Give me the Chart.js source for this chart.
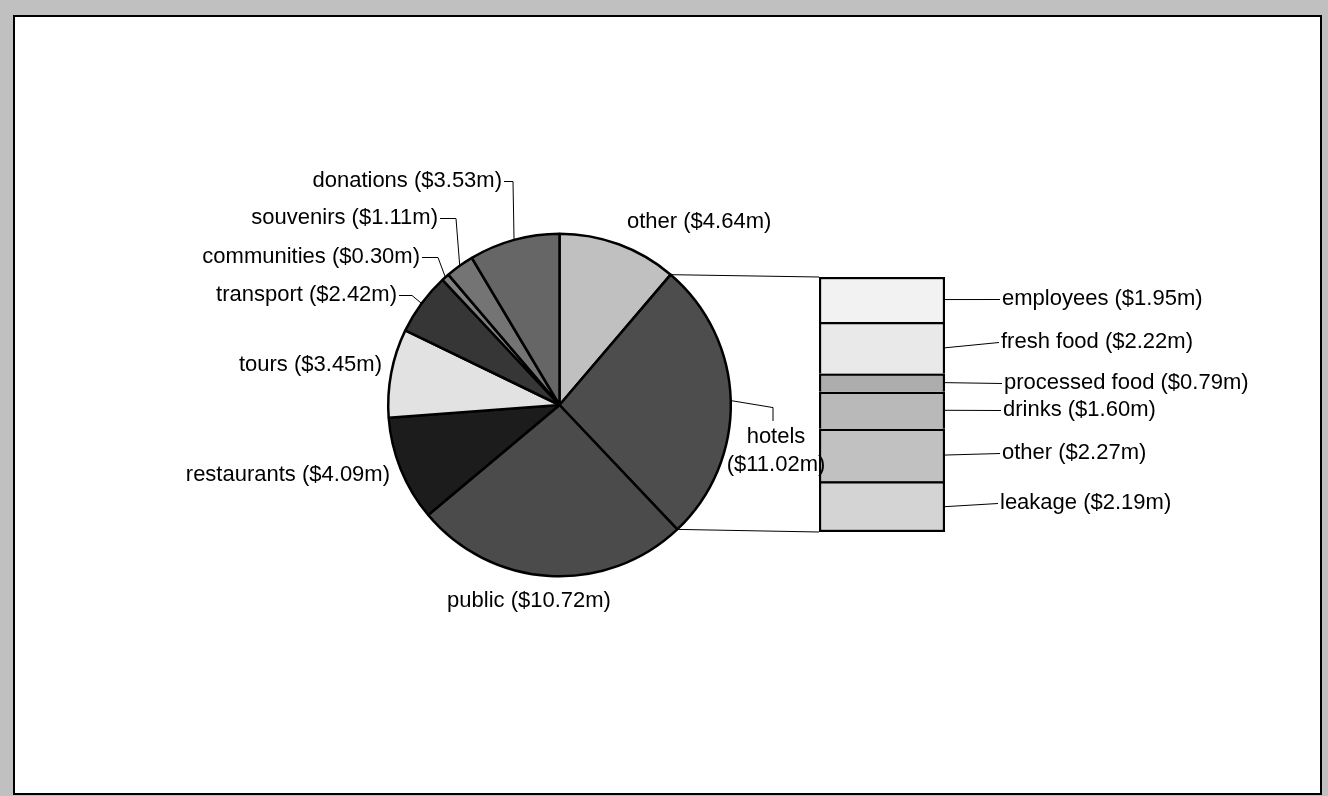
<!DOCTYPE html>
<html>
<head>
<meta charset="utf-8">
<title>Where the tourist dollar goes</title>
<script src="https://cdn.jsdelivr.net/npm/chart.js@4.4.1/dist/chart.umd.min.js"></script>
<style>
  body { margin: 0; background: #c0c0c0; }
  #frame {
    position: absolute; left: 13px; top: 15px; width: 1309px; height: 780px;
    box-sizing: border-box; background: #fff; border: 2px solid #000;
  }
  canvas { position: absolute; left: 0; top: 0; }
</style>
</head>
<body>
<div id="frame"></div>
<!-- bar sits underneath so the hotels label can run over its edge -->
<canvas id="barChart" width="1328" height="796"></canvas>
<canvas id="pieChart" width="1328" height="796"></canvas>
<script>
// spending by sector, $m (pie goes clockwise from 12 o'clock)
var categories = ['other', 'hotels', 'public', 'restaurants', 'tours', 'transport', 'communities', 'souvenirs', 'donations'];
var spending = [4.64, 11.02, 10.72, 4.09, 3.45, 2.42, 0.30, 1.11, 3.53];

// the hotels slice broken down, top to bottom
var hotelParts = ['employees', 'fresh food', 'processed food', 'drinks', 'other', 'leakage'];
var hotelSpending = [1.95, 2.22, 0.79, 1.60, 2.27, 2.19];

var sliceColors = ['#c0c0c0', '#4d4d4d', '#4b4b4b', '#1c1c1c', '#e2e2e2', '#363636', '#808080', '#747474', '#666666'];
var partColors = ['#f2f2f2', '#e9e9e9', '#adadad', '#b9b9b9', '#c1c1c1', '#d4d4d4'];

var FONT = '22px "Liberation Sans", Arial, sans-serif';

// where the labels sit (x is the text anchor, y the middle of the line)
// knee = length of the little horizontal bit of the leader line
var pieLabelSpots = [
  {x: 627, y: 222, align: 'left'},
  {x: 776, y: 437, align: 'center', twoLines: true},
  {x: 529, y: 601, align: 'center'},
  {x: 390, y: 475, align: 'right'},
  {x: 382, y: 365, align: 'right'},
  {x: 397, y: 295, align: 'right', knee: 15},
  {x: 420, y: 257, align: 'right', knee: 18},
  {x: 438, y: 218, align: 'right', knee: 18},
  {x: 502, y: 181, align: 'right', knee: 11}
];
var barLabelSpots = [
  {x: 1002, y: 299}, {x: 1001, y: 342}, {x: 1004, y: 383},
  {x: 1003, y: 410}, {x: 1002, y: 453}, {x: 1000, y: 503}
];

function money(v) { return '($' + v.toFixed(2) + 'm)'; }

function line(ctx, pts) {
  ctx.beginPath();
  ctx.moveTo(pts[0][0], pts[0][1]);
  for (var i = 1; i < pts.length; i++) ctx.lineTo(pts[i][0], pts[i][1]);
  ctx.stroke();
}

function arcPoint(arc, angle) {
  return [arc.x + arc.outerRadius * Math.cos(angle), arc.y + arc.outerRadius * Math.sin(angle)];
}

var pieLabels = {
  id: 'pieLabels',
  afterDraw: function(chart) {
    var ctx = chart.ctx;
    var arcs = chart.getDatasetMeta(0).data;
    ctx.save();
    ctx.font = FONT;
    ctx.fillStyle = '#000';
    ctx.strokeStyle = '#000';
    ctx.lineWidth = 1;
    ctx.textBaseline = 'middle';
    for (var i = 0; i < categories.length; i++) {
      var spot = pieLabelSpots[i];
      var arc = arcs[i];
      var mid = arcPoint(arc, (arc.startAngle + arc.endAngle) / 2);
      ctx.textAlign = spot.align;
      if (spot.twoLines) {
        ctx.fillText(categories[i], spot.x, spot.y);
        ctx.fillText(money(spending[i]), spot.x, spot.y + 28);
        line(ctx, [mid, [spot.x - 3, mid[1] + 7], [spot.x - 3, spot.y - 16]]);
      } else {
        ctx.fillText(categories[i] + ' ' + money(spending[i]), spot.x, spot.y);
        if (spot.knee) {
          line(ctx, [mid, [spot.x + spot.knee, spot.y + 0.5], [spot.x + 2, spot.y + 0.5]]);
        }
      }
    }
    ctx.restore();
  }
};

var pieChart = new Chart(document.getElementById('pieChart'), {
  type: 'pie',
  data: {
    labels: categories,
    datasets: [{
      data: spending,
      backgroundColor: sliceColors,
      borderColor: '#000',
      borderWidth: 2.5
    }]
  },
  options: {
    responsive: false,
    animation: false,
    radius: 171.3,
    layout: { padding: { left: 387, right: 596, top: 233, bottom: 219 } },
    plugins: { legend: { display: false }, tooltip: { enabled: false } }
  },
  plugins: [pieLabels]
});

var hotelTotal = hotelSpending.reduce(function(a, b) { return a + b; }, 0);

// lines joining the hotels slice to the bar, plus the bar's labels
var barExtras = {
  id: 'barExtras',
  afterDraw: function(chart) {
    var ctx = chart.ctx;
    var hotel = pieChart.getDatasetMeta(0).data[1];
    var last = hotelParts.length - 1;
    var first = chart.getDatasetMeta(0).data[0];
    var bottom = chart.getDatasetMeta(last).data[0];
    var barLeft = first.x - first.width / 2;
    var barRight = first.x + first.width / 2;
    var barTop = Math.min(first.y, first.base);
    var barBottom = Math.max(bottom.y, bottom.base);

    ctx.save();
    ctx.strokeStyle = '#000';
    ctx.lineWidth = 1;
    line(ctx, [arcPoint(hotel, hotel.startAngle), [barLeft, barTop]]);
    line(ctx, [arcPoint(hotel, hotel.endAngle), [barLeft, barBottom]]);

    ctx.font = FONT;
    ctx.fillStyle = '#000';
    ctx.textBaseline = 'middle';
    ctx.textAlign = 'left';
    for (var i = 0; i < hotelParts.length; i++) {
      var seg = chart.getDatasetMeta(i).data[0];
      var segMid = (seg.y + seg.base) / 2;
      var spot = barLabelSpots[i];
      line(ctx, [[barRight, segMid], [spot.x - 2, spot.y + 0.5]]);
      ctx.fillText(hotelParts[i] + ' ' + money(hotelSpending[i]), spot.x, spot.y);
    }
    ctx.restore();
  }
};

var barChart = new Chart(document.getElementById('barChart'), {
  type: 'bar',
  data: {
    labels: ['hotels'],
    datasets: hotelParts.map(function(name, i) {
      return {
        label: name,
        data: [hotelSpending[i]],
        backgroundColor: partColors[i],
        borderColor: '#000',
        borderWidth: { top: 2.5, left: 2.5, right: 2.5, bottom: i === hotelParts.length - 1 ? 2.5 : 0 },
        borderSkipped: false,
        barPercentage: 1,
        categoryPercentage: 1
      };
    })
  },
  options: {
    responsive: false,
    animation: false,
    layout: { padding: { left: 819, right: 383, top: 277, bottom: 264 } },
    scales: {
      x: { stacked: true, display: false },
      y: { stacked: true, display: false, min: 0, max: hotelTotal, reverse: true }
    },
    plugins: { legend: { display: false }, tooltip: { enabled: false } }
  },
  plugins: [barExtras]
});
</script>
</body>
</html>
